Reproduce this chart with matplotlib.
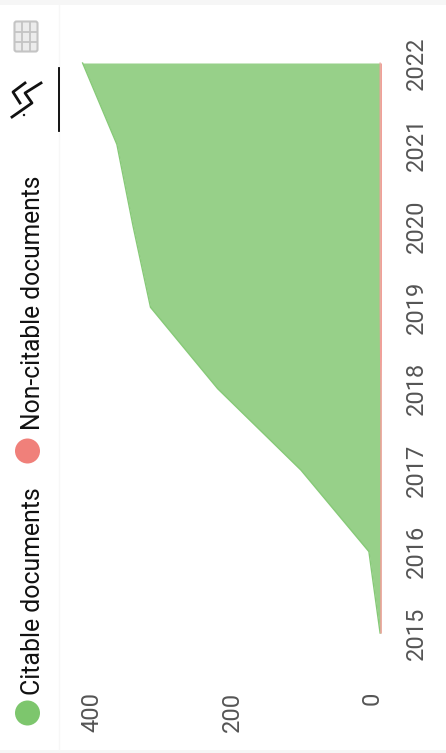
import matplotlib
matplotlib.use('Agg')
import matplotlib.pyplot as plt
from matplotlib.lines import Line2D
from matplotlib.patches import Circle, FancyBboxPatch, Rectangle
from matplotlib.transforms import ScaledTranslation, Affine2D

plt.rcParams['font.family'] = ['Roboto', 'DejaVu Sans']

years = [2015, 2016, 2017, 2018, 2019, 2020, 2021, 2022]
non_citable = [1, 1, 1, 1, 2, 2, 2, 2]
citable = [1, 17, 114, 233, 328, 353, 376, 425]
value_ticks = [0, 200, 400]
legend_labels = ['Citable documents', 'Non-citable documents']

W, H = 446, 753
fig = plt.figure(figsize=(W / 100, H / 100), dpi=100)

# pixel coords with the origin top left, for the page furniture
px = Affine2D().scale(1, -1).translate(0, H)

fig.add_artist(Rectangle((0, 0), W, 5, transform=px, color='#f6f6f6', lw=0))
fig.add_artist(Rectangle((0, 750), W, 3, transform=px, color='#f6f6f6', lw=0))
fig.add_artist(Line2D([58.5, 58.5], [5, 750], transform=px, color='#f7f7f7', lw=1))

ax = fig.add_axes([58 / W, 1 - 633 / H, 324 / W, 570 / H])
ax.set_xlim((381.5 - 58) / 0.7, -0.5 / 0.7)
ax.set_ylim(2015, 2022)
for s in ax.spines.values():
    s.set_visible(False)

stack = [a + b for a, b in zip(non_citable, citable)]
ax.fill_betweenx(years, non_citable, stack, color='#97d089', lw=0)
ax.plot(stack, years, color='#86c977', lw=1, clip_on=False)
ax.fill_betweenx(years, 0, non_citable, color='#f0a09a', lw=0)
ax.plot(non_citable, years, color='#f0a09a', lw=0.8, clip_on=False)

ax.set_yticks(years)
ax.yaxis.tick_right()
ax.tick_params(axis='y', length=0, pad=16.5, labelsize=17, labelcolor='#555555')
for lab in ax.get_yticklabels():
    lab.set_rotation(90)
    lab.set_va('center')
    lab.set_ha('left')

ax.set_xticks(value_ticks)
ax.tick_params(axis='x', length=0, pad=42.5, labelsize=17, labelcolor='#555555')
for lab in ax.get_xticklabels():
    lab.set_rotation(90)
    lab.set_transform(lab.get_transform() + ScaledTranslation(-9.5 / 100, 0, fig.dpi_scale_trans))

# legend
fig.add_artist(Circle((27.5, 713), 12.5, transform=px, color='#7dc66d', lw=0))
fig.add_artist(Circle((27.5, 451), 12.5, transform=px, color='#f0807a', lw=0))
fig.text(33 / W, 1 - 695 / H, legend_labels[0], rotation=90, ha='center', va='bottom', fontsize=17.9, color='#111111')
fig.text(33 / W, 1 - 430 / H, legend_labels[1], rotation=90, ha='center', va='bottom', fontsize=17.7, color='#111111')

# grid icon
fig.add_artist(FancyBboxPatch((14.5, 21.5), 23, 30, boxstyle='round,pad=0,rounding_size=2', transform=px,
                              fc='#ececec', ec='#c4c4c4', lw=1.5))
for gx in [22, 30]:
    fig.add_artist(Line2D([gx, gx], [22, 51], transform=px, color='#c4c4c4', lw=1.3))
for gy in [31.5, 41.5]:
    fig.add_artist(Line2D([15, 37], [gy, gy], transform=px, color='#c4c4c4', lw=1.3))

# active tab marker and chart icon
fig.add_artist(Line2D([58.5, 58.5], [68, 131], transform=px, color='black', lw=1.3))
fig.add_artist(Line2D([41, 25, 32, 12], [83, 93, 103, 117], transform=px, color='#111111', lw=2))
fig.add_artist(Line2D([25, 13, 20], [83, 92, 103], transform=px, color='#111111', lw=2))
fig.add_artist(Circle((24, 115), 1.2, transform=px, color='#111111', lw=0))

fig.savefig('out.png', dpi=100)
